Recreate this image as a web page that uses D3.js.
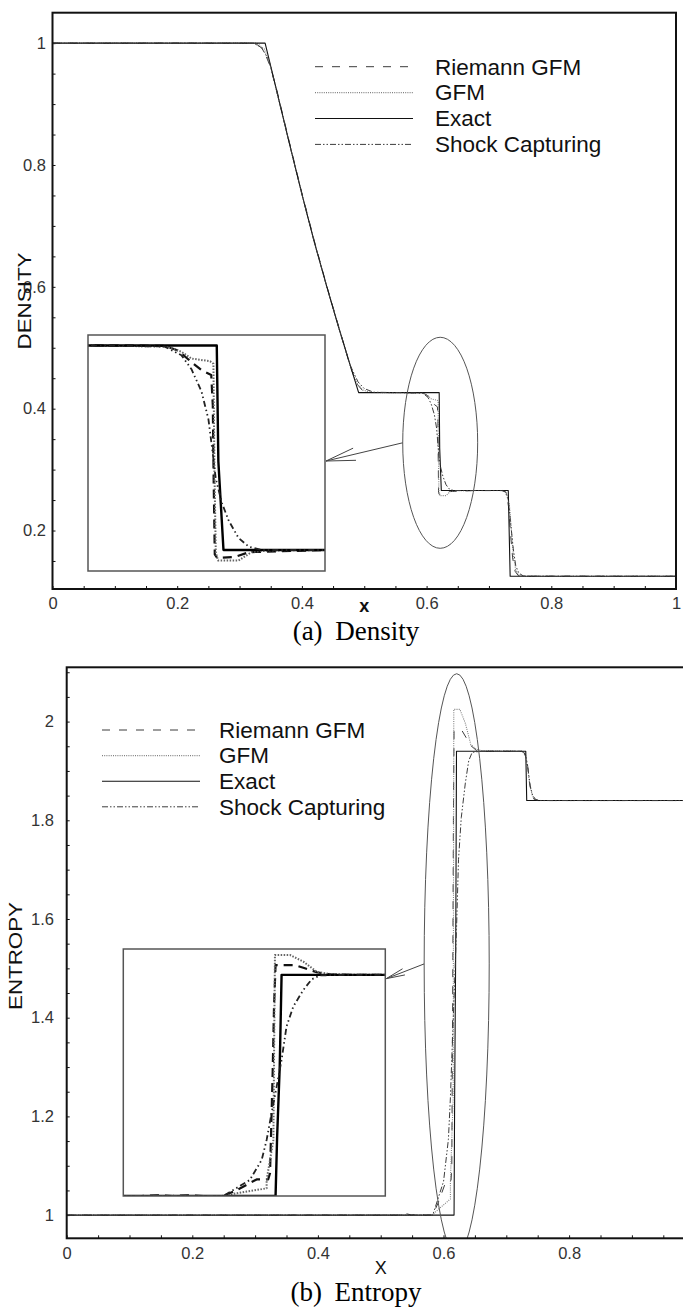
<!DOCTYPE html>
<html>
<head>
<meta charset="utf-8">
<script src="https://cdn.jsdelivr.net/npm/d3@7"></script>
<style>
  body { margin: 0; background: #fff; }
  svg { display: block; }
</style>
</head>
<body>
<div id="chart"></div>
<script>
// Sod-type shock tube, density and entropy profiles, four solutions each
const SERIES = ["Riemann GFM", "GFM", "Exact", "Shock Capturing"];

// density profiles, [x, rho]
const densityRiemannGFM = [
  [0, 1], [0.325, 1], [0.338, 0.99], [0.35, 0.96], [0.36, 0.922], [0.38, 0.837], [0.40, 0.754],
  [0.42, 0.675], [0.44, 0.601], [0.46, 0.531], [0.478, 0.468], [0.488, 0.441], [0.497, 0.43],
  [0.51, 0.4265], [0.555, 0.4263], [0.5938, 0.426], [0.6006, 0.4223], [0.6074, 0.4132],
  [0.6126, 0.4067], [0.6174, 0.403], [0.6182, 0.3789], [0.6186, 0.3233], [0.6192, 0.2621],
  [0.6204, 0.2593], [0.6294, 0.2602], [0.6366, 0.2639], [0.675, 0.2656], [0.722, 0.2656],
  [0.728, 0.262], [0.732, 0.235], [0.735, 0.19], [0.738, 0.155], [0.742, 0.133], [0.747, 0.126],
  [0.755, 0.125], [1, 0.125]
];
const densityGFM = [
  [0, 1], [0.328, 1], [0.34, 0.99], [0.35, 0.962], [0.36, 0.92], [0.38, 0.836], [0.40, 0.753],
  [0.42, 0.674], [0.44, 0.6], [0.46, 0.53], [0.478, 0.469], [0.488, 0.442], [0.497, 0.431],
  [0.51, 0.4265], [0.555, 0.4263], [0.5956, 0.4254], [0.6023, 0.4213], [0.6074, 0.416],
  [0.6168, 0.4139], [0.6185, 0.4119], [0.619, 0.3298], [0.6197, 0.2641], [0.6208, 0.2573],
  [0.6312, 0.2573], [0.638, 0.2641], [0.6466, 0.2652], [0.675, 0.2656], [0.724, 0.2656],
  [0.729, 0.26], [0.733, 0.24], [0.736, 0.2], [0.739, 0.16], [0.743, 0.135], [0.748, 0.127],
  [0.756, 0.125], [1, 0.125]
];
const densityExact = [
  [0, 1], [0.341, 1], [0.36, 0.92], [0.38, 0.835], [0.40, 0.752], [0.42, 0.673], [0.44, 0.6],
  [0.46, 0.53], [0.48, 0.463], [0.491, 0.4263], [0.6202, 0.4263], [0.621, 0.3353],
  [0.6236, 0.2656], [0.731, 0.2656], [0.734, 0.125], [1, 0.125]
];
const densityShockCapturing = [
  [0, 1], [0.322, 1], [0.335, 0.993], [0.347, 0.972], [0.36, 0.919], [0.38, 0.835], [0.40, 0.752],
  [0.42, 0.673], [0.44, 0.6], [0.46, 0.53], [0.478, 0.47], [0.49, 0.444], [0.50, 0.433],
  [0.515, 0.427], [0.555, 0.4263], [0.5938, 0.4254], [0.6023, 0.4186], [0.6074, 0.4076],
  [0.6125, 0.39], [0.616, 0.3681], [0.618, 0.3435], [0.6197, 0.3216], [0.6228, 0.3025],
  [0.6262, 0.2888], [0.6312, 0.2751], [0.6364, 0.2682], [0.6432, 0.2656], [0.675, 0.2656],
  [0.72, 0.2656], [0.726, 0.264], [0.731, 0.25], [0.735, 0.21], [0.739, 0.17], [0.743, 0.142],
  [0.748, 0.13], [0.755, 0.1255], [0.765, 0.125], [1, 0.125]
];

// entropy profiles, [x, p/rho^gamma]
const entropyRiemannGFM = [
  [0, 1], [0.53, 1], [0.54, 1.003], [0.55, 1], [0.56, 1.003], [0.57, 1], [0.5829, 1],
  [0.5916, 1.0252], [0.6045, 1.0704], [0.612, 1.0704], [0.6132, 1.0966], [0.6149, 1.5219],
  [0.6158, 1.8054], [0.6168, 1.9818], [0.6294, 1.9818], [0.6358, 1.9681], [0.6435, 1.9513],
  [0.6521, 1.9419], [0.665, 1.94], [0.725, 1.94], [0.73, 1.935], [0.733, 1.92], [0.735, 1.9],
  [0.737, 1.875], [0.74, 1.855], [0.744, 1.843], [0.75, 1.84], [1, 1.84]
];
const entropyGFM = [
  [0, 1], [0.5818, 1], [0.5916, 1.0115], [0.611, 1.0326], [0.611, 1.0683], [0.6154, 1.2385],
  [0.6159, 1.6636], [0.6164, 2.0248], [0.6261, 2.0248], [0.6348, 1.9965], [0.6435, 1.9534],
  [0.6521, 1.944], [0.6628, 1.9408], [0.726, 1.94], [0.731, 1.93], [0.734, 1.905],
  [0.736, 1.885], [0.738, 1.87], [0.741, 1.852], [0.745, 1.842], [0.752, 1.84], [1, 1.84]
];
const entropyExact = [
  [0, 1], [0.6168, 1], [0.6178, 1.25], [0.6195, 1.55], [0.6207, 1.94], [0.731, 1.94],
  [0.7325, 1.84], [1, 1.84]
];
const entropyShockCapturing = [
  [0, 1], [0.5829, 1], [0.6001, 1.0683], [0.6078, 1.1533], [0.611, 1.2383], [0.6142, 1.3518],
  [0.6175, 1.4652], [0.6207, 1.5786], [0.6239, 1.7203], [0.6283, 1.8054], [0.6348, 1.8757],
  [0.6402, 1.9209], [0.6457, 1.9377], [0.6608, 1.94], [0.722, 1.94], [0.728, 1.938],
  [0.732, 1.925], [0.735, 1.9], [0.738, 1.87], [0.742, 1.85], [0.747, 1.842], [0.755, 1.84],
  [1, 1.84]
];

const densityXTicks = [0, 0.2, 0.4, 0.6, 0.8, 1];
const entropyXTicks = [0, 0.2, 0.4, 0.6, 0.8];
const densityTicks = [0.2, 0.4, 0.6, 0.8, 1];
const entropyTicks = [1, 1.2, 1.4, 1.6, 1.8, 2];

const width = 683, height = 1309;
const SANS = "'Liberation Sans', Arial, sans-serif";
const SERIF = "'Liberation Serif', 'Times New Roman', serif";

// line look for each solution: main plot / zoom box
const styles = {
  "Riemann GFM":     { stroke: "#3c3c3c", dash: "8,9", width: 1, insetStroke: "#111", insetDash: "9,6", insetWidth: 2.2 },
  "GFM":             { stroke: "#808080", dash: "1,1.2", width: 1.1, insetStroke: "#666", insetDash: "1.5,1.5", insetWidth: 2 },
  "Exact":           { stroke: "#111", dash: null, width: 1.1, insetStroke: "#000", insetDash: null, insetWidth: 2.4 },
  "Shock Capturing": { stroke: "#3c3c3c", dash: "6,2,1.5,2,1.5,2", width: 1, insetStroke: "#222", insetDash: "6,3,1.5,3,1.5,3", insetWidth: 1.8 }
};

const panels = [
  {
    id: "dens",
    left: 52.5, top: 12.7, plotW: 623.5, bottom: 589,
    yDomain: [0.104, 1.05], xTicks: densityXTicks, yTicks: densityTicks, yTickPad: 6.5, xTickPad: 8.3,
    data: { "Riemann GFM": densityRiemannGFM, "GFM": densityGFM, "Exact": densityExact, "Shock Capturing": densityShockCapturing },
    yLabel: "DENSITY", yLabelX: 31, yLabelLen: 97, yLabelCenter: 301,
    xLabel: "x", xLabelBaseline: 612, xLabelWeight: "bold",
    caption: "(a) Density", captionBaseline: 640,
    legend: { x: 315, y: 66.7, len: 98, textX: 435, step: 25.9 },
    ellipse: { cx: 0.6218, cy: 0.344, rx: 0.0601, ry: 0.1732 },
    inset: { x: 88, y: 335, w: 237, h: 236, xDomain: [0.555, 0.675], yDomain: [0.2491, 0.4345], arrowAt: 0.534 },
    arrow: { len: 30, spread: 12 }
  },
  {
    id: "entr",
    left: 66.7, top: 667.3, plotW: 628, bottom: 1238.3,
    yDomain: [0.953, 2.11], xTicks: entropyXTicks, yTicks: entropyTicks, yTickPad: 12.7, xTickPad: 9.3,
    data: { "Riemann GFM": entropyRiemannGFM, "GFM": entropyGFM, "Exact": entropyExact, "Shock Capturing": entropyShockCapturing },
    yLabel: "ENTROPY", yLabelX: 22, yLabelLen: 108, yLabelCenter: 956,
    xLabel: "X", xLabelBaseline: 1274, xLabelWeight: "normal",
    caption: "(b) Entropy", captionBaseline: 1301,
    legend: { x: 102, y: 730, len: 98, textX: 219, step: 25.6 },
    ellipse: { cx: 0.621, cy: 1.509, rx: 0.0518, ry: 0.588 },
    inset: { x: 123.3, y: 949, w: 262, h: 247, xDomain: [0.518, 0.688], yDomain: [1.0, 2.05], arrowAt: 0.12 },
    arrow: { len: 19, spread: 10 }
  }
];

const svg = d3.select("#chart").append("svg")
  .attr("width", width)
  .attr("height", height)
  .attr("viewBox", [0, 0, width, height]);

svg.append("rect").attr("width", width).attr("height", height).attr("fill", "#fff");

panels.forEach(drawPanel);

function applyStyle(sel, st, inset) {
  sel.attr("fill", "none")
    .attr("stroke", inset ? st.insetStroke : st.stroke)
    .attr("stroke-width", inset ? st.insetWidth : st.width)
    .attr("stroke-dasharray", inset ? st.insetDash : st.dash)
    .attr("stroke-linejoin", "round");
}

function drawPanel(p) {
  const g = svg.append("g").attr("class", "panel-" + p.id);

  const x = d3.scaleLinear().domain([0, 1]).range([p.left, p.left + p.plotW]);
  const y = d3.scaleLinear().domain(p.yDomain).range([p.bottom, p.top]);

  // clip for the plotting area
  g.append("clipPath").attr("id", "clip-" + p.id)
    .append("rect")
    .attr("x", p.left).attr("y", p.top)
    .attr("width", p.plotW).attr("height", p.bottom - p.top);

  // small inward ticks every 0.05
  const xMinor = d3.range(0, 1.0001, 0.05);
  const yMinor = d3.range(Math.ceil(p.yDomain[0] / 0.05) * 0.05, p.yDomain[1], 0.05);

  g.append("g")
    .attr("transform", `translate(0,${p.bottom})`)
    .call(d3.axisBottom(x).tickValues(xMinor).tickSize(-3).tickFormat(""))
    .call(s => s.select(".domain").remove())
    .selectAll("line").attr("stroke", "#111");

  g.append("g")
    .attr("transform", `translate(${p.left},0)`)
    .call(d3.axisLeft(y).tickValues(yMinor).tickSize(-3).tickFormat(""))
    .call(s => s.select(".domain").remove())
    .selectAll("line").attr("stroke", "#111");

  // tick labels
  const xLab = g.append("g")
    .attr("transform", `translate(0,${p.bottom})`)
    .call(d3.axisBottom(x).tickValues(p.xTicks).tickSize(0).tickPadding(p.xTickPad).tickFormat(d3.format("~g")));
  xLab.select(".domain").remove();
  xLab.attr("font-family", SANS).attr("font-size", 16.5);
  xLab.selectAll("text").attr("fill", "#333");

  const yLab = g.append("g")
    .attr("transform", `translate(${p.left},0)`)
    .call(d3.axisLeft(y).tickValues(p.yTicks).tickSize(0).tickPadding(p.yTickPad).tickFormat(d3.format("~g")));
  yLab.select(".domain").remove();
  yLab.attr("font-family", SANS).attr("font-size", 16.5);
  yLab.selectAll("text").attr("fill", "#333");

  // axis titles
  g.append("text")
    .attr("transform", `translate(${p.yLabelX},${p.yLabelCenter}) rotate(-90)`)
    .attr("text-anchor", "middle")
    .attr("font-family", SANS)
    .attr("font-size", 18)
    .attr("textLength", p.yLabelLen)
    .attr("lengthAdjust", "spacingAndGlyphs")
    .attr("fill", "#111")
    .text(p.yLabel);

  g.append("text")
    .attr("x", x(0.5))
    .attr("y", p.xLabelBaseline)
    .attr("text-anchor", "middle")
    .attr("font-family", SANS)
    .attr("font-size", 18)
    .attr("font-weight", p.xLabelWeight)
    .attr("fill", "#111")
    .text(p.xLabel);

  g.append("text")
    .attr("x", 356)
    .attr("y", p.captionBaseline)
    .attr("text-anchor", "middle")
    .attr("font-family", SERIF)
    .attr("font-size", 27)
    .attr("word-spacing", 6)
    .attr("fill", "#000")
    .text(p.caption);

  // curves
  const line = d3.line().x(d => x(d[0])).y(d => y(d[1]));
  const curves = g.append("g").attr("clip-path", `url(#clip-${p.id})`);
  SERIES.forEach(name => {
    curves.append("path")
      .datum(p.data[name])
      .attr("d", line)
      .call(applyStyle, styles[name], false);
  });

  // ellipse marking the zoomed region
  const e = p.ellipse;
  curves.append("ellipse")
    .attr("cx", x(e.cx))
    .attr("cy", y(e.cy))
    .attr("rx", x(e.cx + e.rx) - x(e.cx))
    .attr("ry", y(e.cy - e.ry) - y(e.cy))
    .attr("fill", "none")
    .attr("stroke", "#555")
    .attr("stroke-width", 1);

  // zoom box
  const ins = p.inset;
  const xi = d3.scaleLinear().domain(ins.xDomain).range([ins.x, ins.x + ins.w]);
  const yi = d3.scaleLinear().domain(ins.yDomain).range([ins.y + ins.h, ins.y]);
  const lineInset = d3.line().x(d => xi(d[0])).y(d => yi(d[1]));

  g.append("clipPath").attr("id", "clipInset-" + p.id)
    .append("rect")
    .attr("x", ins.x).attr("y", ins.y)
    .attr("width", ins.w).attr("height", ins.h);

  g.append("rect")
    .attr("x", ins.x).attr("y", ins.y)
    .attr("width", ins.w).attr("height", ins.h)
    .attr("fill", "#fff");

  const insetCurves = g.append("g").attr("clip-path", `url(#clipInset-${p.id})`);
  SERIES.forEach(name => {
    insetCurves.append("path")
      .datum(p.data[name])
      .attr("d", lineInset)
      .call(applyStyle, styles[name], true);
  });

  g.append("rect")
    .attr("x", ins.x).attr("y", ins.y)
    .attr("width", ins.w).attr("height", ins.h)
    .attr("fill", "none")
    .attr("stroke", "#555")
    .attr("stroke-width", 1.5);

  // arrow from the ellipse to the zoom box
  const tail = [x(e.cx - e.rx), y(e.cy)];
  const tip = [ins.x + ins.w + 1, ins.y + ins.h * ins.arrowAt];
  const ang = Math.atan2(tail[1] - tip[1], tail[0] - tip[0]);
  const spread = p.arrow.spread * Math.PI / 180;
  const arrow = g.append("g").attr("stroke", "#444").attr("stroke-width", 1).attr("fill", "none");
  arrow.append("line")
    .attr("x1", tip[0]).attr("y1", tip[1])
    .attr("x2", tail[0]).attr("y2", tail[1]);
  [-spread, spread].forEach(da => {
    arrow.append("line")
      .attr("x1", tip[0]).attr("y1", tip[1])
      .attr("x2", tip[0] + p.arrow.len * Math.cos(ang + da))
      .attr("y2", tip[1] + p.arrow.len * Math.sin(ang + da));
  });

  // legend
  const lg = p.legend;
  const legendRows = g.append("g").selectAll("g")
    .data(SERIES)
    .join("g")
    .attr("transform", (d, i) => `translate(0,${lg.y + i * lg.step})`);

  legendRows.append("line")
    .attr("x1", lg.x).attr("x2", lg.x + lg.len)
    .attr("y1", 0).attr("y2", 0)
    .each(function(d) { d3.select(this).call(applyStyle, styles[d], false); });

  legendRows.append("text")
    .attr("x", lg.textX)
    .attr("y", 7.8)
    .attr("font-family", SANS)
    .attr("font-size", 22.5)
    .attr("fill", "#111")
    .text(d => d);

  // frame
  g.append("rect")
    .attr("x", p.left).attr("y", p.top)
    .attr("width", p.plotW).attr("height", p.bottom - p.top)
    .attr("fill", "none")
    .attr("stroke", "#111")
    .attr("stroke-width", 2);
}
</script>
</body>
</html>
